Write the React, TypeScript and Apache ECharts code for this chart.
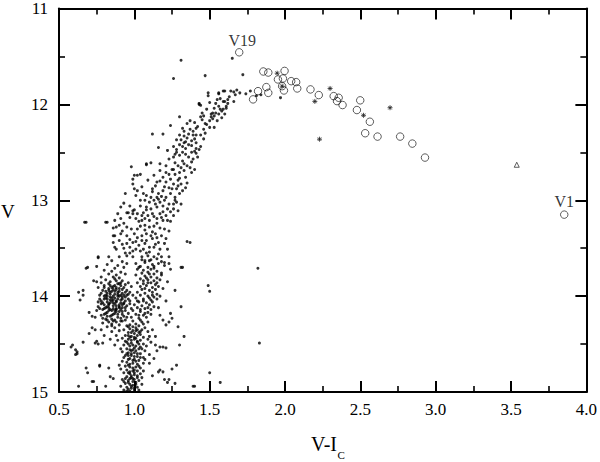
import React, { useEffect, useRef } from "react";
import * as echarts from "echarts";

// x = V-Ic colour, y = V magnitude
const xTicks = { min: 0.5, max: 4.0, interval: 0.5 };
const yTicks = { min: 11, max: 15, interval: 1 };

// field dots [V-Ic, V]
const upperBranchDots: [number, number][] = [
  [1.31, 11.54], [1.26, 11.73], [1.47, 11.7], [1.49, 11.88], [1.49, 11.91], [1.56, 11.89], [1.59, 11.86],
  [1.5, 11.98], [1.54, 11.99], [1.59, 11.97], [1.43, 11.99], [1.44, 12.01], [1.61, 12.02], [1.59, 12.05],
  [1.45, 12.09], [1.51, 12.1], [1.52, 12.09], [1.54, 12.09], [1.6, 12.1], [1.3, 12.13], [1.37, 12.17],
  [1.45, 12.16], [1.5, 12.17], [1.52, 12.15], [1.48, 12.21], [1.5, 12.24], [1.53, 12.24], [1.55, 12.17],
  [1.58, 12.14], [1.24, 12.22], [1.12, 12.31], [1.19, 12.31], [1.32, 12.25], [1.37, 12.26], [1.41, 12.25],
  [1.3, 12.32], [1.33, 12.33], [1.35, 12.35], [1.39, 12.32], [1.41, 12.32], [1.44, 12.32], [1.28, 12.37],
  [1.31, 12.37], [1.34, 12.39], [1.38, 12.38], [1.41, 12.4], [1.46, 12.36], [1.16, 12.45], [1.26, 12.44],
  [1.28, 12.47], [1.32, 12.44], [1.34, 12.46], [1.38, 12.43], [1.41, 12.46], [1.43, 12.47], [1.43, 12.0],
  [1.65, 11.52], [1.72, 11.69], [1.56, 11.88], [1.6, 11.86], [1.64, 11.86], [1.66, 11.87], [1.68, 11.85],
  [1.67, 11.9], [1.74, 11.89], [1.77, 11.86], [1.81, 11.91], [1.84, 11.9], [1.6, 11.97], [1.66, 11.97],
  [1.61, 12.04], [1.58, 12.07], [1.97, 11.93],
  [1.35, 12.2], [1.4, 12.19], [1.42, 12.23], [1.46, 12.26], [1.33, 12.28], [1.47, 12.3], [1.36, 12.42],
  [1.3, 12.42], [1.22, 12.48], [1.44, 12.13], [1.48, 12.05], [1.56, 12.02], [1.53, 12.04], [1.57, 11.94],
  [1.63, 11.92], [1.7, 11.88], [1.62, 11.99], [1.51, 12.13], [1.39, 12.28],
  [1.44, 12.44], [1.36, 12.31], [1.4, 12.36], [1.47, 12.2], [1.53, 12.12], [1.56, 12.1], [1.57, 12.05],
  [1.62, 11.95], [1.55, 11.95], [1.46, 12.12], [1.33, 12.4], [1.27, 12.52], [1.32, 12.5],
];

const midBranchDots: [number, number][] = [
  [1.28, 12.5], [1.34, 12.52], [1.38, 12.5], [1.41, 12.51], [1.4, 12.49], [1.23, 12.57], [1.17, 12.62],
  [1.21, 12.64], [1.27, 12.61], [1.32, 12.59], [1.35, 12.64], [1.31, 12.66], [0.98, 12.65], [1.08, 12.63],
  [1.11, 12.61], [1.02, 12.74], [0.99, 12.78], [1.04, 12.73], [1.17, 12.69], [1.21, 12.71], [1.23, 12.73],
  [1.27, 12.73], [1.3, 12.71], [1.33, 12.69], [1.38, 12.71], [1.4, 12.68], [1.15, 12.81], [1.17, 12.8],
  [1.21, 12.81], [1.26, 12.83], [1.29, 12.85], [1.31, 12.83], [1.23, 12.87], [1.28, 12.88], [1.19, 12.9],
  [0.99, 12.83], [1.0, 12.88], [1.02, 12.9], [0.94, 12.93], [1.01, 12.95], [1.06, 12.93], [1.08, 12.95],
  [1.11, 12.97], [1.15, 12.97], [1.18, 12.96], [1.21, 12.97], [1.24, 12.93], [1.27, 12.97], [1.3, 12.93],
  [1.32, 12.9], [1.34, 12.87],
  [1.04, 13.0], [1.07, 13.0], [1.1, 13.02], [1.13, 13.0], [1.17, 13.02], [1.2, 13.0], [1.23, 13.04],
  [1.28, 13.02], [1.31, 13.04],
  [0.91, 13.07], [0.97, 13.06], [1.04, 13.06], [1.08, 13.07], [1.11, 13.09], [1.15, 13.07], [1.19, 13.06],
  [1.22, 13.09], [1.26, 13.09], [1.29, 13.11],
  [0.89, 13.14], [0.95, 13.13], [0.99, 13.14], [1.02, 13.14], [1.06, 13.13], [1.09, 13.16], [1.12, 13.14],
  [1.17, 13.14], [1.21, 13.16], [1.26, 13.16],
  [0.67, 13.23], [0.82, 13.23], [0.87, 13.21], [0.91, 13.19], [0.97, 13.18], [1.01, 13.19], [1.05, 13.21],
  [1.07, 13.19], [1.1, 13.21], [1.15, 13.19], [1.19, 13.21], [1.22, 13.21],
  [0.86, 13.29], [0.9, 13.26], [0.95, 13.28], [0.98, 13.3], [1.02, 13.3], [1.07, 13.26], [1.1, 13.28],
  [1.13, 13.27], [1.17, 13.29], [1.2, 13.3], [1.23, 13.32],
  [0.87, 13.37], [0.91, 13.35], [0.95, 13.37], [1.0, 13.35], [1.05, 13.37], [1.08, 13.35], [1.11, 13.37],
  [1.15, 13.39], [1.18, 13.37], [1.21, 13.4],
  [0.86, 13.44], [0.9, 13.42], [0.95, 13.45], [0.99, 13.44], [1.05, 13.42], [1.08, 13.42], [1.12, 13.4],
  [1.16, 13.44], [1.2, 13.45], [1.35, 13.43],
  [0.88, 13.51], [0.93, 13.5], [0.97, 13.49], [1.01, 13.51], [1.06, 13.51], [1.1, 13.49], [1.13, 13.49],
  [1.17, 13.51], [1.22, 13.51],
  [0.76, 13.59], [0.83, 13.59], [0.9, 13.59], [0.95, 13.58], [0.99, 13.59], [1.05, 13.59], [1.09, 13.58],
  [1.13, 13.59], [1.18, 13.59],
  [1.3, 12.53], [1.36, 12.55], [1.26, 12.55], [1.39, 12.57], [1.33, 12.62], [1.29, 12.64], [1.37, 12.66],
  [1.25, 12.68], [1.34, 12.76], [1.29, 12.79], [1.24, 12.78], [1.19, 12.76], [1.14, 12.85], [1.25, 12.88],
  [1.2, 12.86], [1.12, 12.91], [1.16, 12.93], [1.27, 13.0], [1.14, 13.04], [1.24, 13.12], [1.19, 13.12],
  [1.08, 13.1], [1.13, 13.17], [1.03, 13.22], [1.15, 13.24], [1.07, 13.31], [1.12, 13.33], [1.02, 13.39],
  [1.14, 13.46], [1.03, 13.47], [1.08, 13.55], [1.16, 13.56], [0.97, 13.55], [1.11, 13.62],
  [1.08, 12.62], [1.0, 12.74], [0.96, 13.13], [0.99, 13.11], [0.88, 13.28], [0.86, 13.37], [0.87, 13.49],
  [0.93, 13.03], [1.0, 13.1], [1.05, 13.16], [0.93, 13.24], [1.04, 13.27], [0.92, 13.32], [0.97, 13.41],
  [1.01, 13.43], [0.92, 13.46], [0.99, 13.53], [1.04, 13.53], [0.94, 13.55], [1.07, 13.45], [1.1, 13.54],
  [1.14, 13.35], [1.18, 13.18], [1.24, 13.22], [1.26, 13.04], [1.16, 12.99], [1.12, 12.88], [1.05, 12.86],
  [1.09, 12.79], [1.13, 12.74], [1.26, 12.68], [1.3, 12.77], [1.35, 12.82], [1.38, 12.6], [1.42, 12.55],
];

const scatterDots: [number, number][] = [
  [0.68, 13.71], [0.66, 13.94], [0.63, 13.96], [0.64, 14.04], [0.73, 13.84], [0.75, 13.85], [0.59, 14.51],
  [0.62, 14.58], [0.61, 14.61], [0.66, 14.48], [0.76, 14.5], [0.79, 14.49], [0.7, 14.39], [0.74, 14.35],
  [0.77, 14.72], [0.68, 14.75], [0.69, 14.8], [0.73, 14.89], [0.63, 14.94], [0.81, 14.94],
  [1.23, 13.59], [1.23, 13.66], [1.32, 13.7], [1.27, 13.94], [1.31, 14.11], [1.17, 14.2], [1.19, 14.25],
  [1.23, 14.27], [1.25, 14.23], [1.29, 14.32], [1.21, 14.3], [1.33, 14.42], [1.3, 14.51], [1.17, 14.53],
  [1.21, 14.54], [1.28, 14.72], [1.17, 14.77], [1.19, 14.79], [1.23, 14.87], [1.27, 14.91], [1.4, 14.94],
  [0.7, 14.17], [0.72, 14.21], [0.74, 14.22], [0.72, 14.33], [0.78, 14.35], [0.58, 14.53], [0.61, 14.56],
  [0.62, 14.6], [0.74, 14.49], [0.75, 14.47], [0.72, 14.89], [0.77, 14.73], [0.83, 14.75], [0.84, 14.84],
  [0.86, 14.86], [1.24, 14.18], [1.25, 14.76], [1.16, 14.79], [1.2, 14.87], [1.22, 14.9], [1.19, 14.53],
  [1.14, 14.51], [1.49, 13.89], [1.5, 13.95], [1.83, 14.49], [1.5, 14.8], [1.57, 14.9], [1.39, 14.94],
  [1.82, 13.71], [1.37, 13.44], [1.31, 13.7], [0.68, 13.23], [0.81, 13.23], [0.76, 13.6], [0.69, 13.7],
  [0.75, 13.69], [0.66, 13.99], [1.2, 13.65], [1.24, 13.72], [1.18, 13.78], [1.22, 13.85], [1.19, 13.92],
  [1.17, 14.0], [1.21, 14.05], [1.16, 14.12], [1.12, 14.35], [1.14, 14.42], [1.11, 14.48], [1.15, 14.57],
  [1.13, 14.65], [1.1, 14.7], [1.12, 14.83],
];

// red clump
const clumpDots: [number, number][] = [
  [0.85, 13.63], [0.92, 13.64], [0.82, 13.67], [0.89, 13.68], [0.95, 13.66], [0.87, 13.71], [0.93, 13.7],
  [0.8, 13.73], [0.85, 13.74], [0.91, 13.75], [0.83, 13.77], [0.88, 13.78], [0.94, 13.77], [0.78, 13.8],
  [0.86, 13.8], [0.9, 13.81],
  [0.81, 13.83], [0.87, 13.82], [0.92, 13.84], [0.96, 13.86], [0.78, 13.86], [0.84, 13.85], [0.89, 13.87],
  [0.94, 13.88], [0.8, 13.89], [0.86, 13.9], [0.91, 13.89], [0.98, 13.9], [0.76, 13.91], [0.83, 13.92],
  [0.88, 13.93], [0.93, 13.91], [0.79, 13.94], [0.85, 13.95], [0.9, 13.95], [0.95, 13.94], [0.82, 13.97],
  [0.87, 13.98], [0.92, 13.97], [0.97, 13.96], [0.77, 13.99], [0.8, 14.0], [0.84, 14.01], [0.89, 14.0],
  [0.94, 14.01], [0.99, 13.99], [0.82, 14.03], [0.86, 14.04], [0.91, 14.04], [0.96, 14.03], [0.78, 14.05],
  [0.84, 14.07], [0.88, 14.06], [0.93, 14.07], [0.8, 14.09], [0.86, 14.1], [0.9, 14.09], [0.95, 14.1],
  [0.76, 14.11], [0.83, 14.12], [0.88, 14.13], [0.92, 14.12], [0.79, 14.14], [0.85, 14.15], [0.9, 14.16],
  [0.94, 14.15], [0.81, 14.18], [0.87, 14.18], [0.92, 14.19], [0.78, 14.2], [0.84, 14.21], [0.89, 14.22],
  [0.95, 14.22], [0.81, 14.24], [0.87, 14.25], [0.91, 14.26], [0.79, 14.28], [0.85, 14.29], [0.9, 14.3],
  [0.83, 13.87], [0.88, 13.84], [0.85, 13.91], [0.9, 13.92], [0.81, 13.95], [0.87, 13.95], [0.93, 13.99],
  [0.84, 13.98], [0.89, 13.98], [0.82, 14.0], [0.87, 14.02], [0.92, 14.01], [0.8, 14.03], [0.84, 14.04],
  [0.89, 14.03], [0.94, 14.05], [0.82, 14.06], [0.86, 14.07], [0.91, 14.07], [0.83, 14.09], [0.88, 14.1],
  [0.92, 14.09], [0.81, 14.12], [0.86, 14.13], [0.9, 14.12], [0.83, 14.15], [0.88, 14.16], [0.86, 14.19],
  [0.82, 14.21], [0.92, 14.16], [0.97, 14.08], [0.78, 14.08], [0.85, 14.24], [0.88, 14.27], [0.94, 14.25],
  [0.77, 14.03], [0.96, 13.98], [0.98, 14.13], [0.75, 14.15], [0.91, 13.86],
  [0.8, 13.91], [0.87, 13.89], [0.92, 13.93], [0.78, 13.97], [0.84, 13.96], [0.9, 14.0], [0.95, 13.99],
  [0.81, 14.02], [0.85, 14.02], [0.88, 14.05], [0.92, 14.03], [0.79, 14.07], [0.83, 14.08], [0.87, 14.08],
  [0.9, 14.11], [0.94, 14.12], [0.8, 14.13], [0.84, 14.14], [0.87, 14.15], [0.91, 14.14], [0.82, 14.17],
  [0.89, 14.19], [0.93, 14.21], [0.8, 14.19], [0.85, 14.2], [0.86, 13.93], [0.83, 13.94], [0.89, 13.96],
  [0.91, 13.99], [0.86, 14.0], [0.82, 14.11], [0.93, 14.08], [0.96, 14.18], [0.77, 14.13], [0.85, 14.05],
  [0.88, 13.91], [0.94, 13.96], [0.79, 14.23], [0.86, 14.26], [0.83, 14.27], [0.91, 14.23], [0.97, 14.05],
  [0.76, 14.06], [0.9, 13.87], [0.84, 13.89], [0.81, 13.99], [0.88, 14.14], [0.92, 14.26], [0.85, 14.31],
  [0.82, 14.25],
  [0.82, 14.32], [0.87, 14.33], [0.85, 14.37], [0.9, 14.36], [0.8, 14.41], [0.88, 14.41], [0.84, 14.45],
  [0.89, 14.46], [0.87, 14.51],
];

// giant branch beside the clump
const branchBesideClump: [number, number][] = [
  [1.05, 13.62], [1.1, 13.63], [1.15, 13.61], [1.18, 13.64], [1.01, 13.66], [1.07, 13.65], [1.12, 13.67],
  [1.16, 13.66], [1.04, 13.69], [1.09, 13.7], [1.13, 13.69], [1.2, 13.68], [1.02, 13.72], [1.06, 13.73],
  [1.11, 13.72], [1.15, 13.74], [1.05, 13.76], [1.09, 13.75], [1.13, 13.77], [1.18, 13.76], [1.01, 13.78],
  [1.07, 13.79], [1.11, 13.8], [1.15, 13.81], [1.04, 13.82], [1.09, 13.83], [1.13, 13.84], [1.17, 13.83],
  [1.02, 13.86], [1.06, 13.87], [1.11, 13.86], [1.14, 13.88], [1.04, 13.9], [1.08, 13.89], [1.12, 13.91],
  [1.16, 13.9], [1.05, 13.93], [1.1, 13.94], [1.14, 13.93], [1.02, 13.96], [1.07, 13.97], [1.12, 13.96],
  [1.15, 13.98], [1.04, 13.99], [1.09, 14.0], [1.13, 14.01], [1.01, 14.02], [1.06, 14.03], [1.11, 14.04],
  [1.15, 14.03], [1.03, 14.06], [1.08, 14.07], [1.12, 14.06], [1.0, 14.09], [1.05, 14.1], [1.1, 14.09],
  [1.13, 14.11], [1.02, 14.12], [1.07, 14.13], [1.11, 14.14], [0.99, 14.15], [1.04, 14.16], [1.09, 14.17],
  [1.01, 14.19], [1.06, 14.2], [1.11, 14.19], [0.98, 14.22], [1.03, 14.23], [1.08, 14.22], [0.99, 14.26],
  [1.04, 14.25], [1.09, 14.27], [1.01, 14.29], [1.06, 14.29],
  [1.07, 13.63], [1.03, 13.7], [1.1, 13.77], [1.06, 13.84], [1.09, 13.86], [1.07, 13.92], [1.12, 13.99],
  [1.06, 14.05], [1.09, 14.12], [1.04, 14.14], [1.07, 14.18], [1.05, 14.27], [1.02, 14.05], [1.13, 13.71],
  [1.08, 13.81], [1.15, 13.86], [1.1, 14.02], [1.03, 14.2],
];

// lower column
const lowerColumn: [number, number][] = [
  [0.95, 14.31], [0.99, 14.32], [1.03, 14.31], [1.07, 14.33], [0.93, 14.35], [0.97, 14.34], [1.01, 14.36],
  [1.05, 14.35], [1.09, 14.37], [0.96, 14.38], [1.0, 14.39], [1.03, 14.38], [0.94, 14.41], [0.98, 14.42],
  [1.02, 14.41], [1.06, 14.43], [0.92, 14.44], [0.96, 14.45], [1.0, 14.45], [1.04, 14.46], [1.09, 14.45],
  [0.95, 14.48], [0.98, 14.49], [1.02, 14.48], [1.06, 14.5], [0.93, 14.51], [0.97, 14.52], [1.01, 14.52],
  [1.04, 14.53], [0.95, 14.55], [0.99, 14.56], [1.03, 14.55], [1.07, 14.57], [0.92, 14.58], [0.96, 14.59],
  [1.0, 14.59], [1.04, 14.6], [0.94, 14.62], [0.98, 14.62], [1.02, 14.63], [1.06, 14.64], [1.1, 14.61],
  [0.96, 14.66], [1.0, 14.66], [1.03, 14.67], [0.92, 14.68], [0.95, 14.69], [0.99, 14.7], [1.02, 14.71],
  [1.06, 14.7], [0.94, 14.73], [0.97, 14.74], [1.01, 14.74], [1.04, 14.75], [0.91, 14.76], [0.95, 14.77],
  [0.99, 14.78], [1.02, 14.78], [0.93, 14.8], [0.97, 14.81], [1.0, 14.82], [1.04, 14.81], [0.95, 14.84],
  [0.98, 14.85], [1.02, 14.85], [0.92, 14.87], [0.96, 14.88], [0.99, 14.89], [1.03, 14.88], [0.94, 14.91],
  [0.97, 14.92], [1.01, 14.92], [0.91, 14.94], [0.95, 14.95], [0.98, 14.96], [1.02, 14.95], [0.93, 14.98],
  [0.97, 14.99], [1.0, 14.98],
  [0.97, 14.3], [1.01, 14.33], [0.99, 14.36], [0.96, 14.41], [1.0, 14.43], [1.04, 14.4], [0.98, 14.46],
  [1.02, 14.47], [0.99, 14.51], [0.97, 14.56], [1.01, 14.57], [0.98, 14.6], [1.0, 14.63], [0.97, 14.65],
  [1.01, 14.68], [0.97, 14.71], [0.99, 14.75], [0.97, 14.79], [1.0, 14.8], [0.98, 14.83], [1.0, 14.87],
  [0.96, 14.9], [0.99, 14.93], [0.96, 14.97], [1.08, 14.52], [1.07, 14.66], [0.93, 14.64], [0.9, 14.72],
  [1.06, 14.78], [0.93, 14.89], [1.05, 14.92], [0.94, 14.47], [1.1, 14.42], [0.91, 14.55],
  [0.96, 14.32], [1.02, 14.35], [0.98, 14.38], [1.04, 14.37], [0.97, 14.43], [1.01, 14.44], [1.03, 14.5],
  [0.96, 14.5], [1.0, 14.54], [0.98, 14.57], [1.02, 14.6], [0.96, 14.62], [1.04, 14.64], [0.99, 14.67],
  [0.96, 14.72], [1.03, 14.73], [1.0, 14.77], [0.96, 14.8], [1.02, 14.83], [0.99, 14.86], [0.97, 14.86],
  [1.01, 14.9], [0.98, 14.94], [1.0, 14.96], [0.95, 14.99], [1.03, 14.98], [0.94, 14.86], [0.95, 14.6],
  [1.05, 14.55], [1.05, 14.85],
];

// variable stars: open circles
const circleStars: [number, number][] = [
  [1.856, 11.657], [1.889, 11.668], [1.997, 11.651], [1.953, 11.74], [1.986, 11.73], [1.981, 11.81],
  [1.993, 11.855], [2.041, 11.758], [2.074, 11.768], [2.081, 11.834], [1.876, 11.82], [1.889, 11.88],
  [1.821, 11.862], [1.788, 11.948], [2.169, 11.844], [2.224, 11.903], [2.323, 11.914], [2.356, 11.931],
  [2.345, 11.966], [2.382, 12.007], [2.499, 11.958], [2.477, 12.059], [2.563, 12.181], [2.532, 12.301],
  [2.614, 12.336], [2.764, 12.336], [2.845, 12.409], [2.929, 12.555],
];
const labelledStars = [
  { name: "V19", x: 1.696, v: 11.457, offset: [3, 1] },
  { name: "V1", x: 3.853, v: 13.15, offset: [0, 0] },
];
// asterisks
const asteriskStars: [number, number][] = [
  [1.948, 11.675], [1.981, 11.81], [2.198, 11.969], [2.299, 11.834], [2.229, 12.363], [2.521, 12.114],
  [2.697, 12.035],
];
// triangle
const triangleStars: [number, number][] = [[3.538, 12.63]];

const FONT = "'Liberation Serif', 'Times New Roman', Times, serif";

export default function App() {
  const ref = useRef<HTMLDivElement>(null);
  useEffect(() => {
    if (!ref.current) return;
    const chart = echarts.init(ref.current, null, { renderer: "svg" });
    const allDots = [
      ...upperBranchDots, ...midBranchDots, ...scatterDots, ...clumpDots, ...branchBesideClump, ...lowerColumn,
    ];

    const baseAxis = {
      axisLine: { show: true, onZero: false, lineStyle: { color: "#000", width: 2 } },
      axisTick: { show: true, inside: true, length: 11, lineStyle: { color: "#000", width: 2 } },
      minorTick: { show: true, splitNumber: 2, length: 6, lineStyle: { color: "#000", width: 1.6 } },
      splitLine: { show: false },
      minorSplitLine: { show: false },
    };
    const xCommon = { type: "value", min: xTicks.min, max: xTicks.max, interval: xTicks.interval, ...baseAxis };
    const yCommon = {
      type: "value", min: yTicks.min, max: yTicks.max, interval: yTicks.interval, inverse: true, ...baseAxis,
    };

    chart.setOption({
      animation: false,
      backgroundColor: "#fff",
      grid: { left: 59, right: 10, top: 7, bottom: 70, containLabel: false },
      xAxis: [
        {
          ...xCommon,
          position: "bottom",
          axisLabel: {
            show: true, margin: 9, color: "#000", fontFamily: FONT, fontSize: 17,
            formatter: (v: number) => v.toFixed(1),
          },
        },
        { ...xCommon, position: "top", axisLabel: { show: false } },
      ],
      yAxis: [
        {
          ...yCommon,
          position: "left",
          axisLabel: { show: true, margin: 11, color: "#000", fontFamily: FONT, fontSize: 17 },
        },
        { ...yCommon, position: "right", axisLabel: { show: false } },
      ],
      graphic: [
        {
          type: "text", left: 1, top: 202,
          style: { text: "V", fontFamily: FONT, fontSize: 19, fill: "#000" },
        },
        {
          type: "text", x: 337, y: 444,
          style: { text: "V-I", fontFamily: FONT, fontSize: 20, fill: "#000", align: "right", verticalAlign: "middle" },
        },
        {
          type: "text", x: 337.5, y: 455,
          style: { text: "C", fontFamily: FONT, fontSize: 11, fill: "#000", align: "left", verticalAlign: "middle" },
        },
      ],
      series: [
        {
          type: "scatter", name: "field", data: allDots, symbol: "circle", symbolSize: 3,
          itemStyle: { color: "#000" }, silent: true,
        },
        {
          type: "scatter", name: "circles", data: circleStars, symbol: "circle", symbolSize: 7.5,
          itemStyle: { color: "rgba(255,255,255,0)", borderColor: "#000", borderWidth: 0.8 },
        },
        {
          type: "scatter", name: "labelled",
          data: labelledStars.map((s) => ({
            name: s.name, value: [s.x, s.v],
            label: { show: true, formatter: "{b}", position: "top", distance: 1, offset: s.offset },
          })),
          symbol: "circle", symbolSize: 7.5,
          itemStyle: { color: "rgba(255,255,255,0)", borderColor: "#000", borderWidth: 0.8 },
          label: { color: "#000", fontFamily: FONT, fontSize: 16 },
        },
        {
          type: "scatter", name: "asterisks", data: asteriskStars,
          symbol: "path://M5,0L5,10M0,5L10,5M1.5,1.5L8.5,8.5M1.5,8.5L8.5,1.5", symbolSize: 5,
          itemStyle: { color: "rgba(0,0,0,0)", borderColor: "#222", borderWidth: 1 },
        },
        {
          type: "scatter", name: "triangle", data: triangleStars, symbol: "triangle", symbolSize: 5,
          itemStyle: { color: "rgba(255,255,255,0)", borderColor: "#000", borderWidth: 0.8 },
        },
      ],
    });
    return () => chart.dispose();
  }, []);
  return (
    <div
      ref={ref}
      style={{ position: "fixed", left: 0, top: 0, width: 600, height: 462, background: "#fff" }}
    />
  );
}
